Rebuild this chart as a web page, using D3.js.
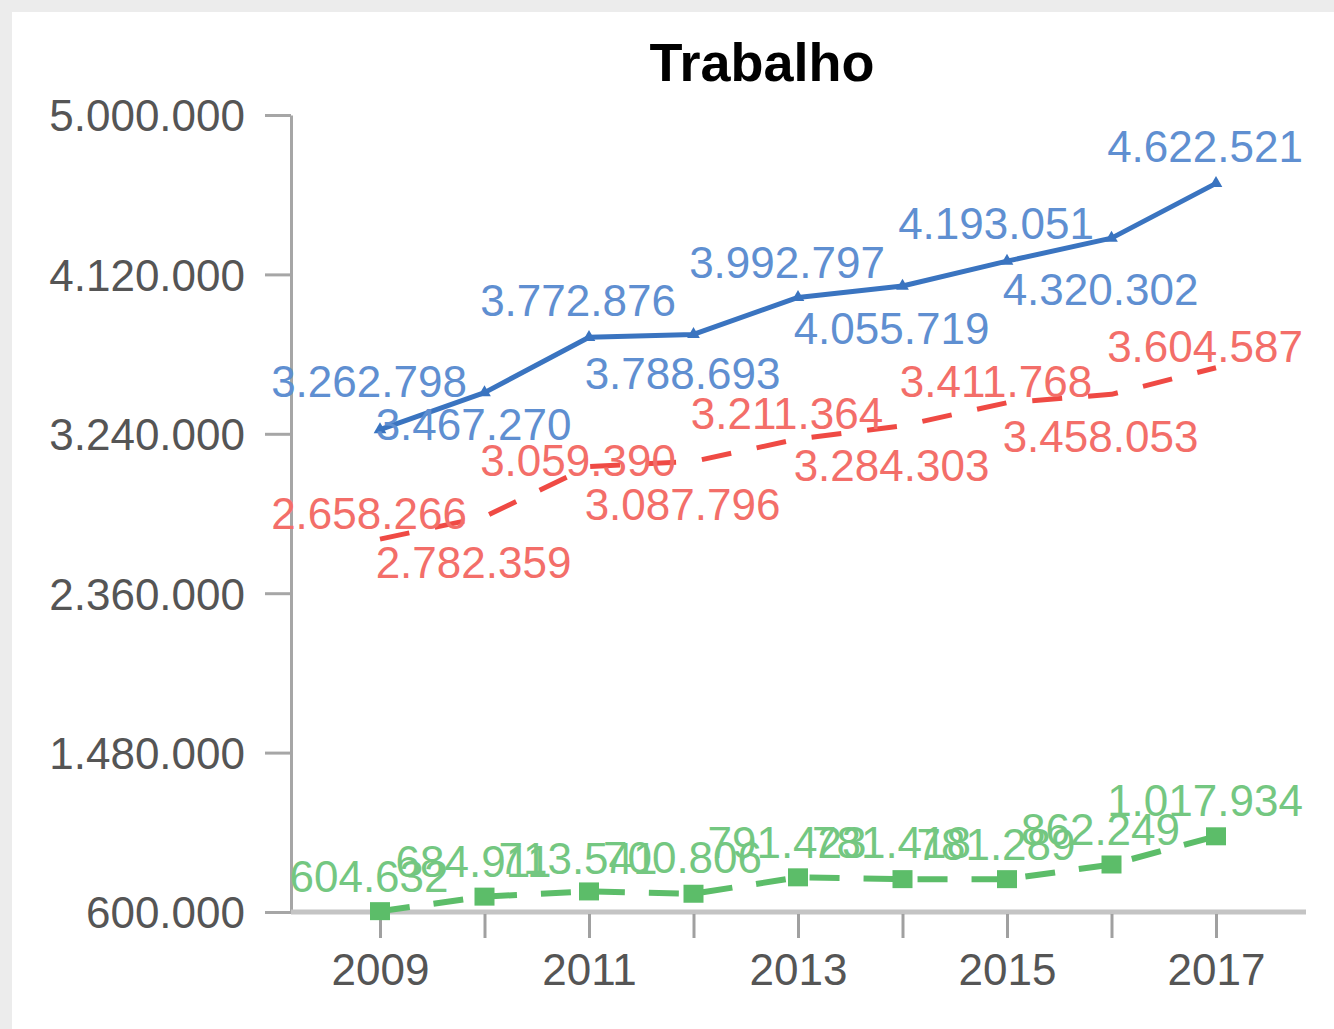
<!DOCTYPE html>
<html>
<head>
<meta charset="utf-8">
<script src="https://cdn.jsdelivr.net/npm/d3@7"></script>
<style>
  html, body { margin: 0; padding: 0; background: #ececec; }
  svg { display: block; }
  text { font-family: "Liberation Sans", Arial, sans-serif; }
</style>
</head>
<body>
<svg id="chart" width="1334" height="1029"></svg>
<script>
// ---- data ----
const years = [2009, 2010, 2011, 2012, 2013, 2014, 2015, 2016, 2017];
const serieAzul = [3262798, 3467270, 3772876, 3788693, 3992797, 4055719, 4193051, 4320302, 4622521];
const serieVermelha = [2658266, 2782359, 3059390, 3087796, 3211364, 3284303, 3411768, 3458053, 3604587];
const serieVerde = [604632, 684911, 713541, 700806, 791423, 781418, 781289, 862249, 1017934];
const yTickValues = [600000, 1480000, 2360000, 3240000, 4120000, 5000000];
const xTickLabels = [2009, 2011, 2013, 2015, 2017];
const title = "Trabalho";

// ---- label placement (vertical nudges of the data labels) ----
const dyAzul = [-33, 47, -21, 55, -19, 58, -22, 67, -21];
const dyVermelha = [-10, 61, 9, 59, -10, 55, -6, 58, -6];
const dyVerde = [-19, -20, -17, -21, -19, -21, -19, -19, -20];

// ---- layout ----
const W = 1334, H = 1029;
const axisLeft = 291, axisRight = 1306;
const svg = d3.select("#chart");

svg.append("rect").attr("x", 0).attr("y", 0).attr("width", W).attr("height", H).attr("fill", "#ececec");
svg.append("rect").attr("x", 12).attr("y", 12).attr("width", W - 12).attr("height", H - 12).attr("fill", "#ffffff");

const x = d3.scaleLinear().domain([2009, 2017]).range([380, 1216]);
const y = d3.scaleLinear().domain([600000, 5000000]).range([912, 115]);

const loc = d3.formatLocale({ thousands: ".", grouping: [3], decimal: ",", currency: ["", ""] });
const fmt = loc.format(",d");

// title
svg.append("text")
  .attr("x", 762).attr("y", 81)
  .attr("text-anchor", "middle")
  .attr("font-size", 54).attr("font-weight", "bold")
  .attr("fill", "#000")
  .text(title);

// y axis
const gy = svg.append("g").attr("transform", `translate(${axisLeft},0)`)
  .call(d3.axisLeft(y).tickValues(yTickValues).tickSize(26).tickSizeOuter(0).tickPadding(20).tickFormat(fmt));
gy.select(".domain").attr("stroke", "#a6a6a6").attr("stroke-width", 3);
gy.selectAll(".tick line").attr("stroke", "#a6a6a6").attr("stroke-width", 3);
gy.selectAll(".tick text").attr("font-size", 44).attr("fill", "#555").attr("font-family", "Liberation Sans, Arial, sans-serif").attr("dy", "0.36em");

// x axis
svg.append("line")
  .attr("x1", axisLeft).attr("x2", axisRight)
  .attr("y1", y(600000)).attr("y2", y(600000))
  .attr("stroke", "#c4c4c4").attr("stroke-width", 5);
const gx = svg.append("g").attr("transform", `translate(0,${y(600000) + 2})`)
  .call(d3.axisBottom(x).tickValues(years).tickSize(24).tickPadding(16)
    .tickFormat(d => xTickLabels.includes(d) ? String(d) : ""));
gx.select(".domain").remove();
gx.selectAll(".tick line").attr("stroke", "#a0a0a0").attr("stroke-width", 3);
gx.selectAll(".tick text").attr("font-size", 44).attr("fill", "#555").attr("font-family", "Liberation Sans, Arial, sans-serif");

// series
const series = [
  { name: "verde", values: serieVerde, color: "#5cbd69", text: "#74c781", width: 6, dash: "30,24", dy: dyVerde, marker: "square" },
  { name: "vermelha", values: serieVermelha, color: "#ef4a44", text: "#f36e69", width: 5, dash: "30,26", dy: dyVermelha, marker: "none" },
  { name: "azul", values: serieAzul, color: "#3a74c0", text: "#5f8fd1", width: 5, dash: null, dy: dyAzul, marker: "triangle" }
];

const line = d3.line().x((d, i) => x(years[i])).y(d => y(d)).curve(d3.curveLinear);

series.forEach(s => {
  const g = svg.append("g").attr("class", "serie-" + s.name);
  g.append("path")
    .datum(s.values)
    .attr("d", line)
    .attr("fill", "none")
    .attr("stroke", s.color)
    .attr("stroke-width", s.width)
    .attr("stroke-dasharray", s.dash)
    .attr("stroke-linejoin", "round");

  if (s.marker === "square") {
    g.selectAll("rect.m").data(s.values).join("rect").attr("class", "m")
      .attr("x", (d, i) => x(years[i]) - 10).attr("y", d => y(d) - 9)
      .attr("width", 20).attr("height", 18).attr("fill", s.color);
  } else if (s.marker === "triangle") {
    const sym = d3.symbol().type(d3.symbolTriangle).size(70);
    g.selectAll("path.m").data(s.values).join("path").attr("class", "m")
      .attr("d", sym)
      .attr("transform", (d, i) => `translate(${x(years[i])},${y(d)})`)
      .attr("fill", s.color);
  }

  g.selectAll("text.lbl").data(s.values).join("text").attr("class", "lbl")
    .attr("x", (d, i) => x(years[i]) - 11)
    .attr("y", (d, i) => y(d) + s.dy[i])
    .attr("text-anchor", "middle")
    .attr("font-size", 44)
    .attr("fill", s.text)
    .text(d => fmt(d));
});
</script>
</body>
</html>
